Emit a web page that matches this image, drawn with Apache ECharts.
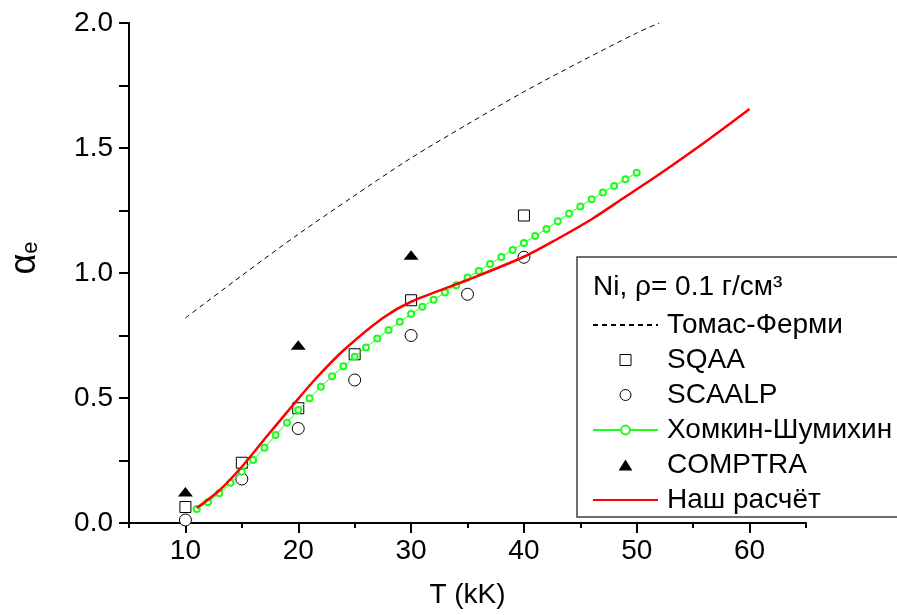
<!DOCTYPE html>
<html>
<head>
<meta charset="utf-8">
<script src="https://cdn.jsdelivr.net/npm/echarts@6/dist/echarts.min.js"></script>
<style>
  html, body { margin: 0; padding: 0; background: #fff; }
  #chart { width: 897px; height: 615px; }
</style>
</head>
<body>
<div id="chart"></div>
<script>
// Electron ionization degree of Ni at rho = 0.1 g/cm^3 versus temperature (kK)

// Thomas-Fermi model (dashed curve)
const tfT = [10, 15, 20, 25, 30, 35, 40, 45, 50, 52];
const tfA = [0.82, 0.99, 1.155, 1.31, 1.46, 1.595, 1.725, 1.845, 1.96, 2.0];

// SQAA (open squares)
const sqaaT = [10, 15, 20, 25, 30, 40];
const sqaaA = [0.064, 0.241, 0.459, 0.675, 0.891, 1.23];

// SCAALP (open circles)
const scaalpT = [10, 15, 20, 25, 30, 35, 40];
const scaalpA = [0.012, 0.176, 0.378, 0.572, 0.75, 0.915, 1.063];

// Khomkin-Shumikhin (green line with small circles, 1 kK step)
const ksT = [11, 12, 13, 14, 15, 16, 17, 18, 19, 20,
             21, 22, 23, 24, 25, 26, 27, 28, 29, 30,
             31, 32, 33, 34, 35, 36, 37, 38, 39, 40,
             41, 42, 43, 44, 45, 46, 47, 48, 49, 50];
const ksA = [0.056, 0.083, 0.119, 0.161, 0.205, 0.252, 0.301, 0.352, 0.401, 0.452,
             0.499, 0.545, 0.587, 0.627, 0.665, 0.702, 0.738, 0.772, 0.805, 0.836,
             0.865, 0.893, 0.922, 0.951, 0.982, 1.008, 1.036, 1.064, 1.092, 1.12,
             1.148, 1.176, 1.207, 1.238, 1.266, 1.295, 1.322, 1.348, 1.375, 1.401];

// COMPTRA (filled triangles)
const compT = [10, 20, 30];
const compA = [0.125, 0.712, 1.072];

// Present calculation (red curve)
const ourT = [11, 13, 15, 17, 19.5, 21.5, 24, 27.5, 30, 35, 40, 43, 46, 49, 52, 56, 60];
const ourA = [0.06, 0.13, 0.225, 0.335, 0.47, 0.575, 0.69, 0.82, 0.885, 0.972, 1.065, 1.137, 1.215, 1.305, 1.395, 1.522, 1.656];

// Axis ticks
const xMajorTicks = [10, 20, 30, 40, 50, 60];
const xMinorTicks = [5, 15, 25, 35, 45, 55, 65];
const yLabelValues = [0, 0.5, 1.0, 1.5, 2.0];

const names = ['Томас-Ферми', 'SQAA', 'SCAALP', 'Хомкин-Шумихин', 'COMPTRA', 'Наш расчёт'];

const zip = (xs, ys) => xs.map((x, i) => [x, ys[i]]);
const FONT = 'Liberation Sans, Arial, sans-serif';

// Marker outlines as paths so the legend keeps their proportions
const SQUARE = 'path://M0,0L10,0L10,10L0,10Z';
const TRIANGLE = 'path://M7.5,0L15,12L0,12Z';

const chart = echarts.init(document.getElementById('chart'), null, { renderer: 'canvas' });

chart.setOption({
  animation: false,
  backgroundColor: '#fff',
  textStyle: { fontFamily: FONT, color: '#000' },
  grid: { left: 129, right: 91, top: 23, bottom: 92, containLabel: false, outerBoundsMode: 'none' },
  xAxis: [
    {
      type: 'value', min: 5, max: 65, interval: 5,
      name: 'T (kK)', nameLocation: 'middle', nameGap: 58,
      nameTextStyle: { fontSize: 28, fontFamily: FONT, color: '#000' },
      axisLine: { show: true, onZero: false, lineStyle: { color: '#000', width: 2 } },
      axisTick: { show: true, inside: false, length: 10, customValues: xMajorTicks, lineStyle: { color: '#000', width: 2 } },
      axisLabel: { show: true, customValues: xMajorTicks, fontSize: 28, fontFamily: FONT, color: '#000', margin: 14 },
      splitLine: { show: false }
    },
    {
      type: 'value', min: 5, max: 65, interval: 5, position: 'bottom',
      axisLine: { show: false },
      axisTick: { show: true, inside: false, length: 5, customValues: xMinorTicks, lineStyle: { color: '#000', width: 2 } },
      axisLabel: { show: false },
      splitLine: { show: false }
    }
  ],
  yAxis: {
    type: 'value', min: 0, max: 2, interval: 0.25,
    name: '{a|α}{b|e}', nameLocation: 'middle', nameRotate: 90, nameGap: 86,
    nameTextStyle: {
      rich: {
        a: { fontSize: 36, fontFamily: FONT, color: '#000', padding: [0, 0, 0, 30] },
        b: { fontSize: 22, fontFamily: FONT, color: '#000', padding: [12, 0, 0, 0] }
      }
    },
    axisLine: { show: true, onZero: false, lineStyle: { color: '#000', width: 2 } },
    axisTick: { show: true, inside: false, length: 10, lineStyle: { color: '#000', width: 2 } },
    axisLabel: {
      customValues: yLabelValues,
      formatter: v => v.toFixed(1),
      fontSize: 28, fontFamily: FONT, color: '#000', margin: 16
    },
    splitLine: { show: false }
  },
  legend: {
    orient: 'vertical',
    left: 592, top: 310,
    padding: 0,
    itemWidth: 65, itemHeight: 11, itemGap: 5,
    symbolKeepAspect: true,
    textStyle: { fontSize: 28, fontFamily: FONT, color: '#000', lineHeight: 30, padding: [0, 0, 0, 4] },
    data: [
      { name: names[0], itemStyle: { opacity: 0 } },
      { name: names[1], itemStyle: { color: '#fff', borderColor: '#000', borderWidth: 1 } },
      { name: names[2], itemStyle: { color: '#fff', borderColor: '#000', borderWidth: 1 } },
      { name: names[3] },
      { name: names[4], itemStyle: { color: '#000', borderWidth: 0 } },
      { name: names[5], itemStyle: { opacity: 0 } }
    ]
  },
  graphic: [
    {
      type: 'rect', z: 3,
      shape: { x: 577, y: 257, width: 340, height: 260 },
      style: { fill: '#fff', stroke: '#404040', lineWidth: 1.5 }
    },
    {
      type: 'text', z: 5, left: 593, top: 273,
      style: { text: 'Ni, ρ= 0.1 г/см³', font: '28px ' + FONT, fill: '#000' }
    }
  ],
  series: [
    {
      name: names[0], type: 'line', data: zip(tfT, tfA), smooth: 0.3,
      symbol: 'none', z: 2, clip: true,
      lineStyle: { color: '#000', width: 1, type: [5, 4] },
      itemStyle: { color: '#000' }
    },
    {
      name: names[1], type: 'scatter', data: zip(sqaaT, sqaaA),
      symbol: SQUARE, symbolSize: 11, symbolKeepAspect: true, z: 3,
      itemStyle: { color: '#fff', borderColor: '#000', borderWidth: 1, opacity: 1 }
    },
    {
      name: names[2], type: 'scatter', data: zip(scaalpT, scaalpA),
      symbol: 'circle', symbolSize: 12, z: 3,
      itemStyle: { color: '#fff', borderColor: '#000', borderWidth: 1, opacity: 1 }
    },
    {
      name: names[3], type: 'line', data: zip(ksT, ksA),
      symbol: 'emptyCircle', symbolSize: 6, showSymbol: true, z: 4,
      lineStyle: { color: '#1aff1a', width: 1 },
      itemStyle: { color: '#1aff1a', borderColor: '#1aff1a', borderWidth: 1 }
    },
    {
      name: names[4], type: 'scatter', data: zip(compT, compA),
      symbol: TRIANGLE, symbolSize: [15, 12], symbolKeepAspect: true, z: 3,
      itemStyle: { color: '#000', opacity: 1 }
    },
    {
      name: names[5], type: 'line', data: zip(ourT, ourA), smooth: 0.3,
      symbol: 'none', z: 5,
      lineStyle: { color: '#ff0000', width: 2.5 },
      itemStyle: { color: '#ff0000' }
    }
  ]
});
</script>
</body>
</html>
